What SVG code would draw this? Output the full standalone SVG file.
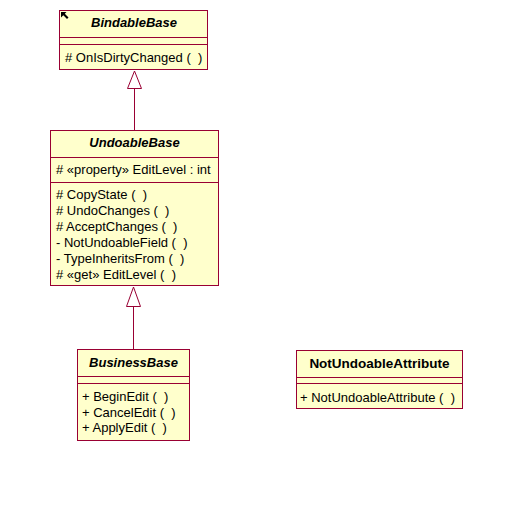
<svg xmlns="http://www.w3.org/2000/svg" width="523" height="513" viewBox="0 0 523 513">
<style>
.box{fill:#FFFFCC;stroke:#990033;stroke-width:1}
.sep{stroke:#990033;stroke-width:1}
text{white-space:pre}
.t{font-family:"Liberation Sans",Arial,sans-serif;font-size:13px;fill:#000}
.n{font-family:"Liberation Sans",Arial,sans-serif;font-size:13px;font-weight:bold;font-style:italic;fill:#000;text-anchor:middle}
.nb{font-family:"Liberation Sans",Arial,sans-serif;font-size:13.5px;font-weight:bold;fill:#000;text-anchor:middle}
.edge{stroke:#990033;stroke-width:1;fill:none}
.tri{stroke:#990033;stroke-width:1;fill:#fff}
</style>
<rect width="523" height="513" fill="#fff"/>
<g id="edges">
<line class="edge" x1="134.5" y1="88" x2="134.5" y2="130.5"/>
<polygon class="tri" points="134.5,71 127.5,88.5 141.5,88.5"/>
<line class="edge" x1="133.5" y1="306" x2="133.5" y2="349.5"/>
<polygon class="tri" points="133.5,287 126.5,306.5 140.5,306.5"/>
</g>
<g id="BindableBase">
<rect class="box" x="59.5" y="10.5" width="148" height="59"/>
<line class="sep" x1="59.5" y1="37.5" x2="207.5" y2="37.5"/>
<line class="sep" x1="59.5" y1="44.5" x2="207.5" y2="44.5"/>
<path d="M61,12 L66.5,12 L64.8,13.8 L68.5,17.5 L67,19 L63.3,15.3 L61,17.5 Z" fill="#000"/>
<text class="n" x="134" y="27">BindableBase</text>
<text class="t" x="65" y="62" xml:space="preserve"># OnIsDirtyChanged (  )</text>
</g>
<g id="UndoableBase">
<rect class="box" x="50.5" y="130.5" width="168" height="155"/>
<line class="sep" x1="50.5" y1="157.5" x2="218.5" y2="157.5"/>
<line class="sep" x1="50.5" y1="182.5" x2="218.5" y2="182.5"/>
<text class="n" x="134.5" y="147">UndoableBase</text>
<text class="t" x="56" y="174" xml:space="preserve"># «property» EditLevel : int</text>
<text class="t" x="56" y="199" xml:space="preserve"># CopyState (  )</text>
<text class="t" x="56" y="215" xml:space="preserve"># UndoChanges (  )</text>
<text class="t" x="56" y="231" xml:space="preserve"># AcceptChanges (  )</text>
<text class="t" x="56" y="247" xml:space="preserve">- NotUndoableField (  )</text>
<text class="t" x="56" y="263" xml:space="preserve">- TypeInheritsFrom (  )</text>
<text class="t" x="56" y="279" xml:space="preserve"># «get» EditLevel (  )</text>
</g>
<g id="BusinessBase">
<rect class="box" x="77.5" y="349.5" width="112" height="91"/>
<line class="sep" x1="77.5" y1="376.5" x2="189.5" y2="376.5"/>
<line class="sep" x1="77.5" y1="383.5" x2="189.5" y2="383.5"/>
<text class="n" x="133.5" y="367">BusinessBase</text>
<text class="t" x="82" y="401" xml:space="preserve">+ BeginEdit (  )</text>
<text class="t" x="82" y="416.5" xml:space="preserve">+ CancelEdit (  )</text>
<text class="t" x="82" y="432" xml:space="preserve">+ ApplyEdit (  )</text>
</g>
<g id="NotUndoableAttribute">
<rect class="box" x="296.5" y="350.5" width="166" height="58"/>
<line class="sep" x1="296.5" y1="377.5" x2="462.5" y2="377.5"/>
<line class="sep" x1="296.5" y1="383.5" x2="462.5" y2="383.5"/>
<text class="nb" x="379.5" y="368">NotUndoableAttribute</text>
<text class="t" x="300" y="402" xml:space="preserve">+ NotUndoableAttribute (  )</text>
</g>
</svg>
